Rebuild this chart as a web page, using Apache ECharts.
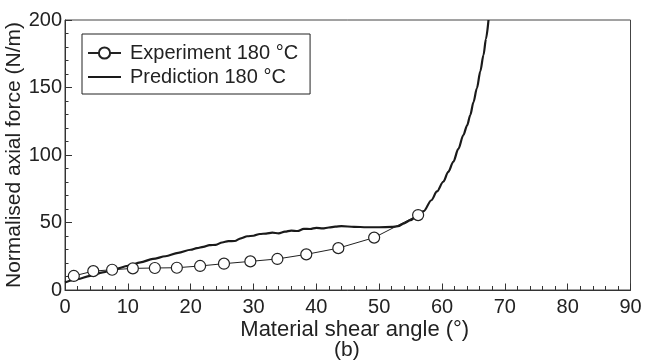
<!DOCTYPE html>
<html>
<head>
<meta charset="utf-8">
<script src="https://cdn.jsdelivr.net/npm/echarts@6/dist/echarts.min.js"></script>
<style>html,body{margin:0;padding:0;background:#fff;}#c{width:646px;height:362px;}</style>
</head>
<body>
<div id="c"></div>
<script>
var expX = [1.4, 4.5, 7.5, 10.8, 14.3, 17.8, 21.5, 25.3, 29.5, 33.8, 38.4, 43.5, 49.2, 56.2];
var expY = [10.4, 14, 15, 16, 16.3, 16.5, 17.8, 19.5, 21.2, 23, 26.4, 31, 38.8, 55.5];

var predX = [0, 2, 4, 6, 8, 10, 12, 14, 16, 18, 20, 21, 22, 23, 24, 25, 26, 27, 28, 29, 30, 31, 32, 33, 34, 35, 36, 37, 38, 39, 40, 41, 42, 43, 44, 46, 48, 50, 52, 53, 54, 55, 56.2, 57.1, 58.3, 59.2, 60.2, 61, 61.8, 62.6, 63.4, 64, 64.5, 65, 65.55, 66.1, 66.6, 67, 67.4];
var predY = [5.5, 8, 10.5, 13, 15.5, 17.8, 20.5, 23, 25, 27.5, 29.8, 31, 32, 33.2, 33.5, 35.2, 36.2, 36.3, 38.3, 39.8, 40.2, 41.5, 41.8, 42.5, 42, 43.2, 44, 43.7, 45.3, 45.2, 46, 45.6, 46.3, 46.9, 47.3, 46.8, 46.5, 46.5, 46.7, 47.3, 49.4, 51.8, 55.4, 58.5, 66.5, 73, 80.2, 87.5, 95, 104.5, 114.8, 122, 129.6, 139, 149.4, 162, 174, 186, 200];

var seriesNames = ['Experiment 180 °C', 'Prediction 180 °C'];
var xName = 'Material shear angle (°)';
var yName = 'Normalised axial force (N/m)';
var panelLabel = '(b)';

function pairs(xs, ys) { return xs.map(function (x, i) { return [x, ys[i]]; }); }

var FONT = "'Liberation Sans', Arial, Helvetica, sans-serif";
var TXT = '#222';

var chart = echarts.init(document.getElementById('c'), null, {renderer: 'canvas'});
chart.setOption({
  animation: false,
  backgroundColor: '#fff',
  textStyle: {fontFamily: FONT, color: TXT},
  grid: {left: 65, right: 15.5, top: 20, bottom: 72, containLabel: false, outerBoundsMode: 'none', show: true, borderColor: '#444', borderWidth: 1, backgroundColor: 'transparent'},
  legend: {
    orient: 'vertical', left: 82, top: 34,
    padding: [9, 12, 7, 5],
    itemWidth: 33, itemHeight: 14, itemGap: 4,
    borderColor: '#222', borderWidth: 1,
    textStyle: {fontFamily: FONT, fontSize: 20, color: TXT, lineHeight: 19, padding: [0, 0, 0, 4]},
    data: seriesNames
  },
  xAxis: {
    type: 'value', min: 0, max: 90, interval: 10,
    name: xName, nameLocation: 'middle', nameGap: 29, nameMoveOverlap: false,
    nameTextStyle: {fontFamily: FONT, fontSize: 22, color: TXT, padding: [0, 0, 0, 14]},
    axisLine: {lineStyle: {color: '#333', width: 1}},
    axisTick: {inside: true, length: 6.5, lineStyle: {color: '#333'}},
    minorTick: {show: true, splitNumber: 5, length: 4, lineStyle: {color: '#333'}},
    axisLabel: {fontFamily: FONT, fontSize: 20, color: TXT, margin: 7},
    splitLine: {show: false}
  },
  yAxis: {
    type: 'value', min: 0, max: 200, interval: 50,
    name: yName, nameLocation: 'middle', nameGap: 40, nameMoveOverlap: false,
    nameTextStyle: {fontFamily: FONT, fontSize: 21, color: TXT},
    axisLine: {lineStyle: {color: '#333', width: 1}},
    axisTick: {inside: true, length: 7, lineStyle: {color: '#333'}},
    minorTick: {show: true, splitNumber: 5, length: 3.5, lineStyle: {color: '#333'}},
    axisLabel: {fontFamily: FONT, fontSize: 20, color: TXT, margin: 3},
    splitLine: {show: false}
  },
  graphic: [{
    type: 'text', left: 334, top: 340,
    style: {text: panelLabel, font: '21px ' + FONT, fill: TXT}
  }],
  series: [
    {
      name: seriesNames[0], type: 'line', data: pairs(expX, expY),
      symbol: 'circle', symbolSize: 11, showSymbol: true,
      lineStyle: {color: '#222', width: 1},
      itemStyle: {color: '#fff', borderColor: '#222', borderWidth: 1.2},
      z: 3
    },
    {
      name: seriesNames[1], type: 'line', data: pairs(predX, predY),
      symbol: 'none', smooth: 0.3, smoothMonotone: 'x',
      lineStyle: {color: '#1a1a1a', width: 2.2},
      itemStyle: {color: 'rgba(0,0,0,0)', borderColor: 'rgba(0,0,0,0)', borderWidth: 0},
      z: 2
    }
  ]
});
</script>
</body>
</html>
